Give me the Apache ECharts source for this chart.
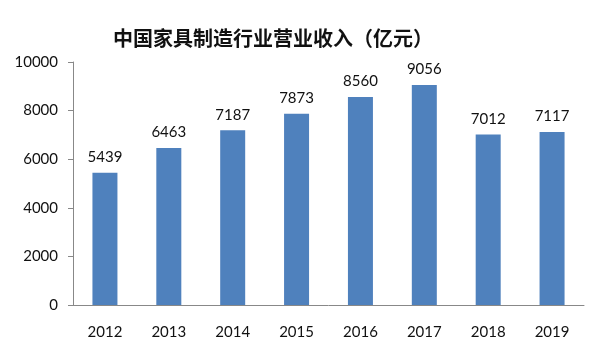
<!DOCTYPE html>
<html><head><meta charset="utf-8">
<script src="https://cdn.jsdelivr.net/npm/echarts@6/dist/echarts.min.js"></script>
<style>html,body{margin:0;padding:0;background:#fff}#c{width:600px;height:359px}</style>
</head><body><div id="c"></div>
<script>
const categories = ['2012','2013','2014','2015','2016','2017','2018','2019'];
const revenue = [5439, 6463, 7187, 7873, 8560, 9056, 7012, 7117];
const yTicks = [0, 2000, 4000, 6000, 8000, 10000];

const chart = echarts.init(document.getElementById('c'));
chart.setOption({
  animation: false,
  title: {
    text: '中国家具制造行业营业收入（亿元）',
    left: 268, top: 23, textAlign: 'center',
    textStyle: {fontFamily: 'Noto Sans CJK SC', fontWeight: 'bold', fontSize: 20, color: '#111'}
  },
  grid: {left: 73, right: 16, top: 62, bottom: 54},
  xAxis: {
    type: 'category', data: categories,
    axisLine: {lineStyle: {color: '#888'}},
    axisTick: {length: 6, lineStyle: {color: '#888'}},
    axisLabel: {margin: 20, fontFamily: 'Lato', fontSize: 15, color: '#111'}
  },
  yAxis: {
    type: 'value', min: yTicks[0], max: yTicks[yTicks.length-1], interval: 2000,
    axisLine: {show: true, lineStyle: {color: '#888'}},
    axisTick: {show: true, length: 5, lineStyle: {color: '#888'}},
    splitLine: {show: false},
    axisLabel: {margin: 15, fontFamily: 'Lato', fontSize: 15, color: '#111', formatter: v => String(v)}
  },
  series: [{
    type: 'bar', data: revenue, barWidth: 25,
    itemStyle: {color: '#4F81BD'},
    label: {show: true, position: 'top', distance: 8, fontFamily: 'Lato', fontSize: 15, color: '#111'}
  }]
});
</script></body></html>
